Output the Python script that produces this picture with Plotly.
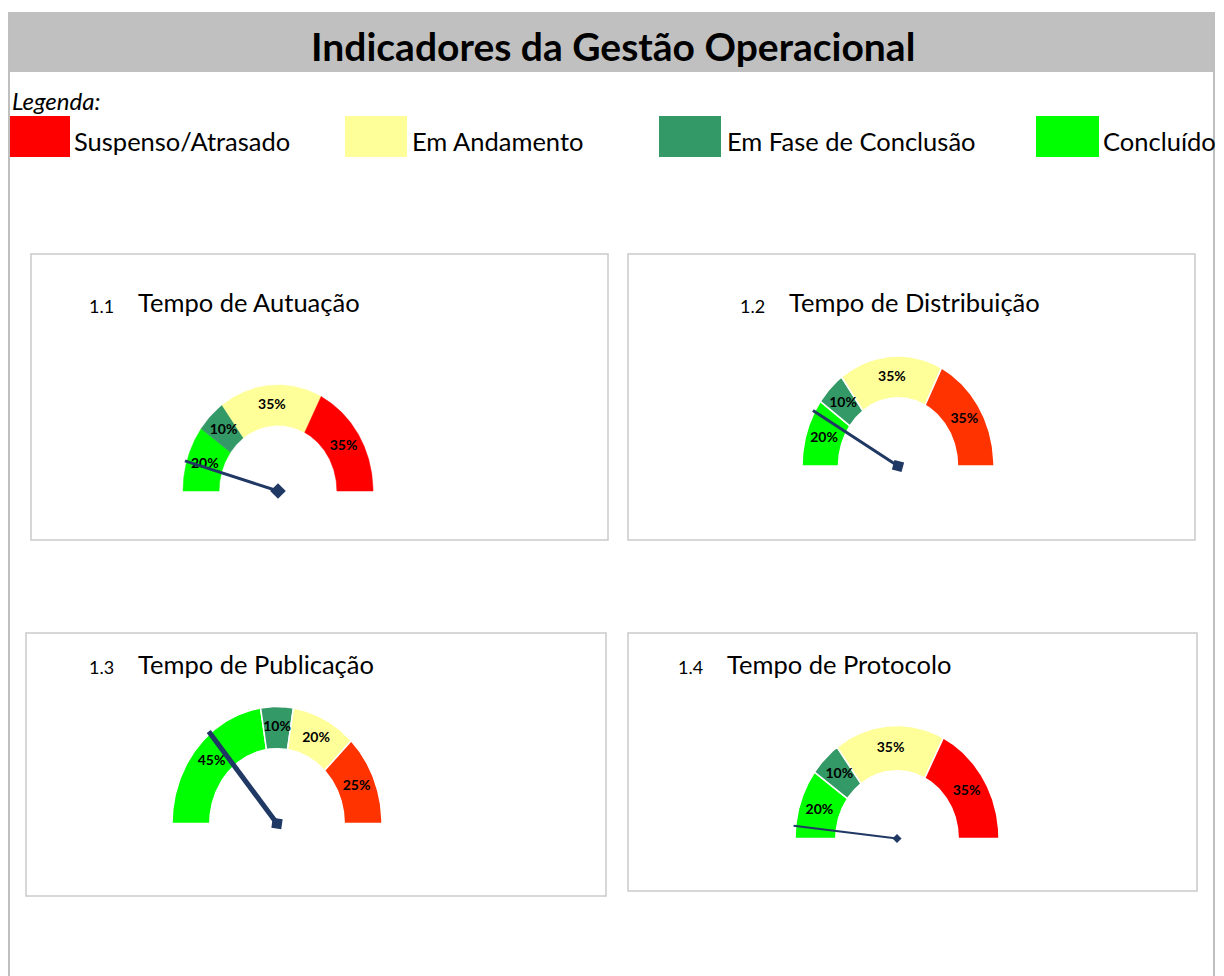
import numpy as np
import plotly.graph_objects as go

W, H = 1224, 976

# ---------------- data ----------------
page_title = "Indicadores da Gestão Operacional"
legend_caption = "Legenda:"
status_labels = ["Suspenso/Atrasado", "Em Andamento", "Em Fase de Conclusão", "Concluído"]

gauge_numbers = ["1.1", "1.2", "1.3", "1.4"]
gauge_titles = ["Tempo de Autuação", "Tempo de Distribuição", "Tempo de Publicação", "Tempo de Protocolo"]

# segments drawn left -> right along each half gauge
segment_status = ["Concluído", "Em Fase de Conclusão", "Em Andamento", "Suspenso/Atrasado"]
values_autuacao = [20, 10, 35, 35]
values_distribuicao = [20, 10, 35, 35]
values_publicacao = [45, 10, 20, 25]
values_protocolo = [20, 10, 35, 35]
gauge_values = [values_autuacao, values_distribuicao, values_publicacao, values_protocolo]
needle_values = [9, 16.5, 28, 3.5]

# ---------------- styles / layout ----------------
status_colors = {
    "Suspenso/Atrasado": "#FF0000",
    "Em Andamento": "#FFFF99",
    "Em Fase de Conclusão": "#339966",
    "Concluído": "#00FF00",
}
late_color_override = [None, "#FF3300", "#FF3300", None]
FONT = "Lato"
NEEDLE = "#203864"

# gauge geometry in pixels: center x, base y, outer rx, outer ry, hole fraction
g_cx = [278, 898, 277, 897]
g_cy = [491, 466, 823.5, 838.5]
g_rx = [95, 96, 105, 102]
g_ry = [106, 110, 117, 113]
g_hole = [0.62, 0.62, 0.64, 0.60]
g_sep = [0, 1.5, 1.5, 1.5]
needle_width = [3, 3, 5, 2]
needle_symbol = ["diamond", "square", "square", "diamond"]
needle_angle = [0, 15, 8, 0]
needle_size = [12, 10, 10, 7]

panels = [(31, 254, 608, 540), (628, 254, 1195, 540), (26, 633, 606, 896), (628, 633, 1197, 891)]
num_pos = [(87, 306), (738, 306), (87, 667), (676, 667)]
title_pos = [(136, 302), (787, 302), (136, 664), (725, 664)]
legend_boxes = [(10, 70), (345, 407), (659, 721), (1036, 1099)]
legend_text_x = [72, 410, 725, 1101]


def px(x):
    return x / W


def py(y):
    return 1 - y / H


fig = go.Figure()
layout_axes = {}
PAD = 1.15
for i, vals in enumerate(gauge_values):
    n = i + 1
    xa = "x" if n == 1 else f"x{n}"
    ya = "y" if n == 1 else f"y{n}"
    xkey = "xaxis" if n == 1 else f"xaxis{n}"
    ykey = "yaxis" if n == 1 else f"yaxis{n}"
    cx, cy, rx, ry = g_cx[i], g_cy[i], g_rx[i], g_ry[i]
    layout_axes[xkey] = dict(domain=[px(cx - PAD * rx), px(cx + PAD * rx)], range=[-PAD, PAD],
                             visible=False, fixedrange=True, anchor=ya)
    layout_axes[ykey] = dict(domain=[py(cy + 0.15 * ry), py(cy - PAD * ry)], range=[-0.15, PAD],
                             visible=False, fixedrange=True, anchor=xa)
    hole = g_hole[i]
    starts = np.concatenate([[0], np.cumsum(vals)[:-1]])
    total = float(np.sum(vals))
    lx, lyy, lt = [], [], []
    for s, v, st in zip(starts, vals, segment_status):
        col = status_colors[st]
        if st == "Suspenso/Atrasado" and late_color_override[i]:
            col = late_color_override[i]
        t = np.linspace(np.pi * (1 - s / total), np.pi * (1 - (s + v) / total), 90)
        xs = np.concatenate([np.cos(t), hole * np.cos(t[::-1]), [np.cos(t[0])]])
        ys = np.concatenate([np.sin(t), hole * np.sin(t[::-1]), [np.sin(t[0])]])
        fig.add_trace(go.Scatter(
            x=xs, y=ys, xaxis=xa, yaxis=ya, mode="lines", fill="toself", fillcolor=col,
            line=dict(color="white" if g_sep[i] else col, width=g_sep[i] if g_sep[i] else 0.5),
            hoverinfo="skip", showlegend=False))
        m = np.pi * (1 - (s + v / 2) / total)
        rm = (1 + hole) / 2
        lx.append(rm * np.cos(m))
        lyy.append(rm * np.sin(m))
        lt.append(f"<b>{v}%</b>")
    fig.add_trace(go.Scatter(x=lx, y=lyy, xaxis=xa, yaxis=ya, mode="text", text=lt,
                             textfont=dict(family=FONT, size=14, color="black"),
                             hoverinfo="skip", showlegend=False))
    a = np.pi * (1 - needle_values[i] / 100)
    fig.add_trace(go.Scatter(x=[1.02 * np.cos(a), 0], y=[1.02 * np.sin(a), 0], xaxis=xa, yaxis=ya,
                             mode="lines", line=dict(color=NEEDLE, width=needle_width[i]),
                             hoverinfo="skip", showlegend=False))
    fig.add_trace(go.Scatter(x=[0], y=[0], xaxis=xa, yaxis=ya, mode="markers",
                             marker=dict(symbol=needle_symbol[i], size=needle_size[i], color=NEEDLE,
                                         angle=needle_angle[i]),
                             hoverinfo="skip", showlegend=False))

shapes = []
# title banner and page side rules
shapes.append(dict(type="rect", xref="paper", yref="paper", x0=px(8), x1=px(1215), y0=py(72), y1=py(12),
                   fillcolor="#C0C0C0", line=dict(width=0), layer="below"))
for xv in (9, 1214):
    shapes.append(dict(type="line", xref="paper", yref="paper", x0=px(xv), x1=px(xv), y0=py(12), y1=py(976),
                       line=dict(color="#BFBFBF", width=2), layer="below"))
for (x0, y0, x1, y1) in panels:
    shapes.append(dict(type="rect", xref="paper", yref="paper", x0=px(x0), x1=px(x1), y0=py(y1), y1=py(y0),
                       line=dict(color="#CACACA", width=1.5), fillcolor="rgba(0,0,0,0)", layer="below"))
for (x0, x1), lab in zip(legend_boxes, status_labels):
    shapes.append(dict(type="rect", xref="paper", yref="paper", x0=px(x0), x1=px(x1), y0=py(157), y1=py(116),
                       fillcolor=status_colors[lab], line=dict(width=0), layer="below"))

ann = []
ann.append(dict(text=f"<b>{page_title}</b>", x=px(613), y=py(46), xref="paper", yref="paper",
                showarrow=False, xanchor="center", yanchor="middle",
                font=dict(family=FONT, size=39, color="black")))
ann.append(dict(text=f"<i>{legend_caption}</i>", x=px(10), y=py(100), xref="paper", yref="paper",
                showarrow=False, xanchor="left", yanchor="middle",
                font=dict(family=FONT, size=24, color="black")))
for xt, lab in zip(legend_text_x, status_labels):
    ann.append(dict(text=lab, x=px(xt), y=py(141), xref="paper", yref="paper", showarrow=False,
                    xanchor="left", yanchor="middle", font=dict(family=FONT, size=25.5, color="black")))
for (nx, ny), (tx, ty), num, tit in zip(num_pos, title_pos, gauge_numbers, gauge_titles):
    ann.append(dict(text=num, x=px(nx), y=py(ny), xref="paper", yref="paper", showarrow=False,
                    xanchor="left", yanchor="middle", font=dict(family=FONT, size=18, color="black")))
    ann.append(dict(text=tit, x=px(tx), y=py(ty), xref="paper", yref="paper", showarrow=False,
                    xanchor="left", yanchor="middle", font=dict(family=FONT, size=25.5, color="black")))

fig.update_layout(width=W, height=H, margin=dict(l=0, r=0, t=0, b=0), autosize=False,
                  paper_bgcolor="white", plot_bgcolor="rgba(0,0,0,0)",
                  shapes=shapes, annotations=ann, showlegend=False, **layout_axes)

fig.write_html("out.html", config={"displayModeBar": False})
